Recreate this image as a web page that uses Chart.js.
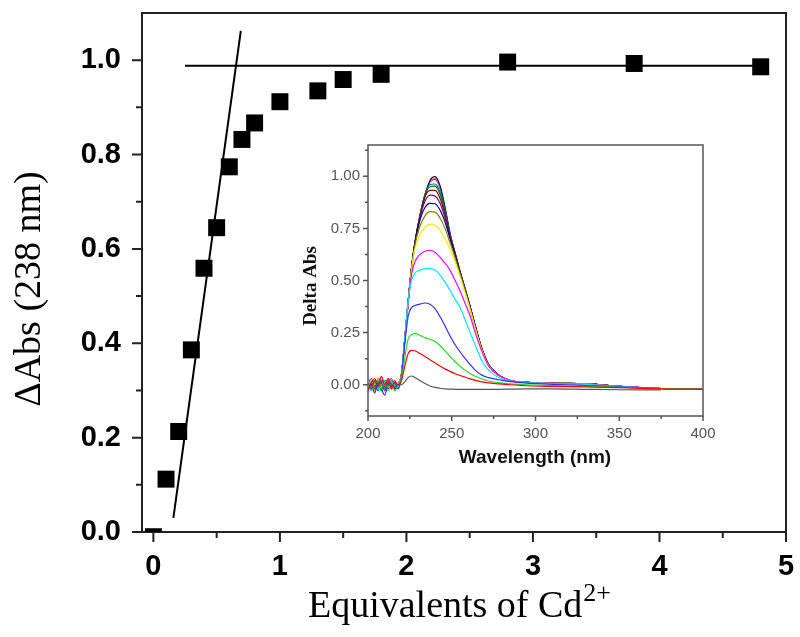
<!DOCTYPE html>
<html>
<head>
<meta charset="utf-8">
<script src="https://cdn.jsdelivr.net/npm/chart.js@4/dist/chart.umd.min.js"></script>
<style>
  html, body { margin: 0; padding: 0; background: #fff; }
  #wrap { position: relative; width: 800px; height: 637px; }
  #main { position: absolute; left: 0; top: 0; }
  #inset { position: absolute; left: 290px; top: 135px; }
</style>
</head>
<body>
<div id="wrap">
  <canvas id="main" width="800" height="637"></canvas>
  <canvas id="inset" width="430" height="340"></canvas>
</div>
<script>
// ---------- Main titration data ----------
const eqX  = [0, 0.1, 0.2, 0.3, 0.4, 0.5, 0.6, 0.7, 0.8, 1.0, 1.3, 1.5, 1.8, 2.8, 3.8, 4.8];
const dAbs = [-0.01, 0.112, 0.213, 0.386, 0.559, 0.645, 0.774, 0.832, 0.867, 0.912, 0.935, 0.959, 0.970, 0.996, 0.993, 0.986];
const steepX = [0.158, 0.691];
const steepY = [0.030, 1.062];
const flatX  = [0.25, 4.8];
const flatY  = [0.988, 0.988];
const xMajor = [0, 1, 2, 3, 4, 5];
const xMinor = [0.5, 1.5, 2.5, 3.5, 4.5];
const yMajor = [0, 0.2, 0.4, 0.6, 0.8, 1.0];
const yMinor = [0.1, 0.3, 0.5, 0.7, 0.9];

// ---------- Inset spectra data ----------
const wl = [200,202,204,206,208,210,212,214,216,218, 220,222,224,226,228, 231,234,237,240,243,246,249,252,255,258,261,264, 268,272,278,285,295,310,330,350,375,400];
const sp0  = [0.01,-0.02,0.02,-0.01,0.01,-0.03,0.02,0.00,-0.01,0.00, 0.00,0.015,0.035,0.042,0.035, 0.02,0.006,-0.006,-0.013,-0.017,-0.02,-0.021,-0.022,-0.022,-0.022,-0.022,-0.022, -0.022,-0.022,-0.022,-0.021,-0.02,-0.02,-0.022,-0.024,-0.025,null];
const sp1  = [-0.02,0.01,0.03,-0.01,0.04,0.00,0.03,-0.02,0.01,0.00, 0.02,0.09,0.15,0.165,0.163, 0.15,0.135,0.12,0.105,0.09,0.076,0.064,0.053,0.044,0.036,0.028,0.021, 0.014,0.009,0.004,0.0,-0.005,-0.008,-0.01,-0.014,-0.02,-0.022];
const sp2  = [0.00,-0.03,0.01,0.02,-0.02,0.01,-0.01,0.02,-0.03,0.00, 0.03,0.13,0.22,0.24,0.245, 0.237,0.226,0.218,0.207,0.188,0.162,0.135,0.11,0.088,0.07,0.054,0.041, 0.028,0.018,0.01,0.004,0.0,-0.004,-0.008,-0.012,-0.018,-0.022];
const sp3  = [-0.03,0.00,-0.04,0.01,-0.02,-0.05,0.00,-0.01,0.01,-0.02, 0.04,0.2,0.33,0.37,0.38, 0.387,0.392,0.386,0.365,0.327,0.282,0.234,0.192,0.157,0.126,0.096,0.07, 0.046,0.034,0.024,0.015,0.008,0.002,-0.004,-0.01,-0.018,-0.022];
const sp4  = [0.02,-0.01,0.01,-0.02,0.00,0.02,-0.03,0.01,0.00,-0.01, 0.05,0.22,0.40,0.50,0.535, 0.55,0.556,0.557,0.55,0.526,0.492,0.452,0.41,0.37,0.31,0.25,0.19, 0.115,0.07,0.035,0.018,0.01,0.006,0.002,-0.008,-0.018,-0.022];
const sp5  = [0.01,0.03,-0.01,0.00,0.02,-0.02,0.01,0.03,-0.01,0.00, 0.05,0.22,0.40,0.53,0.59, 0.625,0.64,0.645,0.636,0.612,0.582,0.55,0.50,0.45,0.39,0.33,0.25, 0.16,0.09,0.045,0.02,0.011,0.007,0.003,-0.008,-0.018,-0.022];
const sp6  = [-0.01,0.02,0.00,0.03,-0.01,0.01,0.02,-0.02,0.00,0.01, 0.05,0.22,0.40,0.55,0.65, 0.72,0.755,0.77,0.765,0.742,0.70,0.65,0.59,0.52,0.44,0.36,0.27, 0.165,0.092,0.045,0.02,0.011,0.007,0.004,-0.008,-0.018,-0.022];
const sp7  = [0.00,-0.02,0.02,0.01,-0.03,0.00,-0.01,0.02,0.01,-0.01, 0.05,0.22,0.40,0.56,0.67, 0.76,0.81,0.83,0.828,0.80,0.75,0.68,0.61,0.53,0.45,0.365,0.275, 0.168,0.093,0.045,0.02,0.011,0.007,0.004,-0.008,-0.018,-0.022];
const sp8  = [0.02,0.00,-0.01,0.03,0.01,-0.02,0.00,0.01,-0.02,0.00, 0.05,0.22,0.40,0.56,0.68, 0.79,0.85,0.87,0.868,0.838,0.78,0.70,0.62,0.535,0.452,0.368,0.277, 0.17,0.094,0.046,0.02,0.012,0.008,0.005,-0.008,-0.018,-0.022];
const sp9  = [-0.02,0.01,0.00,-0.01,0.02,0.01,-0.02,0.00,0.02,-0.01, 0.05,0.22,0.40,0.56,0.68, 0.80,0.88,0.91,0.905,0.87,0.80,0.71,0.625,0.535,0.455,0.37,0.28, 0.17,0.095,0.046,0.02,0.012,0.008,0.005,-0.008,-0.018,-0.022];
const sp10 = [0.01,-0.01,0.02,0.00,-0.02,0.02,0.01,-0.01,0.00,0.01, 0.05,0.22,0.40,0.56,0.68, 0.805,0.90,0.932,0.932,0.895,0.815,0.712,0.627,0.537,0.456,0.371,0.281, 0.171,0.095,0.046,0.02,0.012,0.008,0.005,-0.008,-0.018,-0.022];
const sp11 = [0.00,0.02,-0.02,0.01,0.00,-0.01,0.03,0.00,-0.01,0.00, 0.05,0.22,0.40,0.56,0.68, 0.81,0.91,0.95,0.953,0.915,0.83,0.715,0.628,0.538,0.457,0.372,0.282, 0.172,0.096,0.046,0.02,0.012,0.008,0.005,-0.008,-0.018,-0.022];
const sp12 = [-0.01,0.00,0.01,-0.03,0.01,0.00,-0.01,0.02,0.00,-0.01, 0.05,0.22,0.40,0.56,0.68, 0.81,0.91,0.96,0.963,0.925,0.835,0.72,0.63,0.54,0.458,0.373,0.283, 0.172,0.096,0.046,0.02,0.012,0.008,0.005,-0.008,-0.018,-0.022];
const sp13 = [0.02,-0.01,0.00,0.02,-0.01,0.01,0.00,-0.02,0.01,0.00, 0.05,0.22,0.40,0.56,0.68, 0.81,0.91,0.98,0.998,0.955,0.85,0.725,0.632,0.542,0.46,0.374,0.284, 0.173,0.097,0.047,0.02,0.012,0.008,0.005,-0.008,-0.018,-0.022];
const sp14 = [0.00,0.01,-0.03,0.00,0.01,-0.01,0.02,0.01,-0.02,0.00, 0.05,0.22,0.40,0.56,0.68, 0.81,0.91,0.975,0.99,0.95,0.848,0.724,0.631,0.541,0.459,0.374,0.284, 0.173,0.097,0.047,0.02,0.012,0.008,0.005,-0.008,-0.018,-0.022];
const sp15 = [-0.01,0.02,0.01,-0.02,0.00,0.02,-0.01,0.00,0.01,-0.01, 0.05,0.22,0.40,0.56,0.68, 0.81,0.91,0.972,0.985,0.945,0.845,0.722,0.63,0.54,0.458,0.373,0.283, 0.172,0.096,0.046,0.02,0.012,0.008,0.005,-0.008,-0.018,-0.022];
const spectra = [sp0, sp1, sp2, sp3, sp4, sp5, sp6, sp7, sp8, sp9, sp10, sp11, sp12, sp13, sp14, sp15];
const spColors = ['#555555','#ff0000','#22dd22','#3030ff','#00e5ff','#ff00ff','#f0f000','#808000','#000080','#800080','#800000','#008000','#008080','#0000a0','#ff8000','#8000ff'];
const inXMajor = [200, 250, 300, 350, 400];
const inXMinor = [225, 275, 325, 375];
const inYMajor = [0, 0.25, 0.5, 0.75, 1.0];
const inYMinor = [-0.125, 0.125, 0.375, 0.625, 0.875, 1.125];

// ---------- helpers ----------
function frameAndTicks(id, o) {
  return {
    id: id,
    beforeDatasetsDraw(chart) {
      const ctx = chart.ctx, a = chart.chartArea;
      const xs = chart.scales.x, ys = chart.scales.y;
      ctx.save();
      ctx.strokeStyle = o.color;
      ctx.lineWidth = o.lw;
      ctx.strokeRect(a.left, a.top, a.right - a.left, a.bottom - a.top);
      ctx.beginPath();
      o.xMajor.forEach(v => { const p = xs.getPixelForValue(v); ctx.moveTo(p, a.bottom); ctx.lineTo(p, a.bottom + o.major); });
      o.xMinor.forEach(v => { const p = xs.getPixelForValue(v); ctx.moveTo(p, a.bottom); ctx.lineTo(p, a.bottom + o.minor); });
      o.yMajor.forEach(v => { const p = ys.getPixelForValue(v); ctx.moveTo(a.left, p); ctx.lineTo(a.left - o.major, p); });
      o.yMinor.forEach(v => { const p = ys.getPixelForValue(v); ctx.moveTo(a.left, p); ctx.lineTo(a.left - o.minor, p); });
      ctx.stroke();
      ctx.restore();
    }
  };
}
function noPad(s) { s.paddingTop = 0; s.paddingBottom = 0; s.paddingLeft = 0; s.paddingRight = 0; }

// ---------- main chart ----------
const mainTitles = {
  id: 'mainTitles',
  afterDraw(chart) {
    const ctx = chart.ctx;
    ctx.save();
    ctx.fillStyle = '#000';
    ctx.translate(30, 289);
    ctx.rotate(-Math.PI / 2);
    ctx.font = '38px "Liberation Serif", "Times New Roman", serif';
    ctx.textAlign = 'center';
    ctx.textBaseline = 'middle';
    ctx.fillText('ΔAbs (238 nm)', 0, 0);
    ctx.restore();
    ctx.save();
    ctx.fillStyle = '#000';
    ctx.textBaseline = 'alphabetic';
    ctx.textAlign = 'left';
    const t1 = 'Equivalents of Cd', t2 = '2+';
    ctx.font = '38px "Liberation Serif", "Times New Roman", serif';
    const w1 = ctx.measureText(t1).width;
    ctx.font = '26px "Liberation Serif", "Times New Roman", serif';
    const w2 = ctx.measureText(t2).width;
    const x0 = 459 - (w1 + w2) / 2;
    ctx.font = '38px "Liberation Serif", "Times New Roman", serif';
    ctx.fillText(t1, x0, 617);
    ctx.font = '26px "Liberation Serif", "Times New Roman", serif';
    ctx.fillText(t2, x0 + w1 + 1, 601);
    ctx.restore();
  }
};

const mainFont = { family: '"Liberation Sans", Arial, sans-serif', size: 29, weight: 'bold' };

new Chart(document.getElementById('main'), {
  type: 'scatter',
  data: {
    datasets: [
      {
        data: steepX.map((x, i) => ({ x: x, y: steepY[i] })),
        showLine: true, borderColor: '#000', borderWidth: 2, pointRadius: 0, clip: 0
      },
      {
        data: flatX.map((x, i) => ({ x: x, y: flatY[i] })),
        showLine: true, borderColor: '#000', borderWidth: 2, pointRadius: 0, clip: 0
      },
      {
        data: eqX.map((x, i) => ({ x: x, y: dAbs[i] })),
        showLine: false, pointStyle: 'rect', pointRadius: 12, pointHoverRadius: 12,
        backgroundColor: '#000', borderColor: '#000', borderWidth: 0, clip: 0
      }
    ]
  },
  options: {
    responsive: false,
    animation: false,
    events: [],
    layout: { padding: { left: 0, top: 13, right: 14, bottom: 0 } },
    plugins: { legend: { display: false }, tooltip: { enabled: false } },
    scales: {
      x: {
        type: 'linear', min: -0.09, max: 5,
        border: { display: false },
        grid: { display: true, drawOnChartArea: false, drawTicks: true, tickLength: 10, tickColor: 'rgba(0,0,0,0)' },
        ticks: { font: mainFont, color: '#000', padding: 8, autoSkip: false, maxRotation: 0, callback: v => String(v) },
        afterBuildTicks: s => { s.ticks = xMajor.map(v => ({ value: v })); },
        afterFit: s => { s.height = 105; noPad(s); }
      },
      y: {
        type: 'linear', min: 0, max: 1.1,
        border: { display: false },
        grid: { display: true, drawOnChartArea: false, drawTicks: true, tickLength: 9, tickColor: 'rgba(0,0,0,0)' },
        ticks: { font: mainFont, color: '#000', padding: 12, autoSkip: false, callback: v => Number(v).toFixed(1) },
        afterBuildTicks: s => { s.ticks = yMajor.map(v => ({ value: v })); },
        afterFit: s => { s.width = 142; noPad(s); }
      }
    }
  },
  plugins: [frameAndTicks('mainFrame', { color: '#222', lw: 2, major: 10, minor: 6, xMajor: xMajor, xMinor: xMinor, yMajor: yMajor, yMinor: yMinor }), mainTitles]
});

// ---------- inset chart ----------
const insetTitles = {
  id: 'insetTitles',
  afterDraw(chart) {
    const ctx = chart.ctx;
    ctx.save();
    ctx.fillStyle = '#111';
    ctx.translate(21, 151);
    ctx.rotate(-Math.PI / 2);
    ctx.font = 'bold 19px "Liberation Serif", "Times New Roman", serif';
    ctx.textAlign = 'center';
    ctx.textBaseline = 'middle';
    ctx.fillText('Delta Abs', 0, 0);
    ctx.restore();
    ctx.save();
    ctx.fillStyle = '#111';
    ctx.font = 'bold 19px "Liberation Sans", Arial, sans-serif';
    ctx.textAlign = 'center';
    ctx.textBaseline = 'middle';
    ctx.fillText('Wavelength (nm)', 245, 323);
    ctx.restore();
  }
};

const inFont = { family: '"Liberation Sans", Arial, sans-serif', size: 15 };

new Chart(document.getElementById('inset'), {
  type: 'scatter',
  data: {
    datasets: spectra.map((s, k) => ({
      data: wl.map((w, i) => ({ x: w, y: s[i] })),
      showLine: true, borderColor: spColors[k], borderWidth: 1.2, pointRadius: 0,
      tension: 0.3, cubicInterpolationMode: 'monotone', spanGaps: false
    }))
  },
  options: {
    responsive: false,
    animation: false,
    events: [],
    layout: { padding: { left: 0, top: 10, right: 17, bottom: 0 } },
    plugins: { legend: { display: false }, tooltip: { enabled: false } },
    scales: {
      x: {
        type: 'linear', min: 200, max: 400,
        border: { display: false },
        grid: { display: true, drawOnChartArea: false, drawTicks: true, tickLength: 4, tickColor: 'rgba(0,0,0,0)' },
        ticks: { font: inFont, color: '#555', padding: 5, autoSkip: false, maxRotation: 0, callback: v => String(v) },
        afterBuildTicks: s => { s.ticks = inXMajor.map(v => ({ value: v })); },
        afterFit: s => { s.height = 59; noPad(s); }
      },
      y: {
        type: 'linear', min: -0.15, max: 1.15,
        border: { display: false },
        grid: { display: true, drawOnChartArea: false, drawTicks: true, tickLength: 4, tickColor: 'rgba(0,0,0,0)' },
        ticks: { font: inFont, color: '#555', padding: 4, autoSkip: false, callback: v => Number(v).toFixed(2) },
        afterBuildTicks: s => { s.ticks = inYMajor.map(v => ({ value: v })); },
        afterFit: s => { s.width = 78; noPad(s); }
      }
    }
  },
  plugins: [frameAndTicks('insetFrame', { color: '#555', lw: 1.5, major: 5, minor: 3, xMajor: inXMajor, xMinor: inXMinor, yMajor: inYMajor, yMinor: inYMinor }), insetTitles]
});
</script>
</body>
</html>
